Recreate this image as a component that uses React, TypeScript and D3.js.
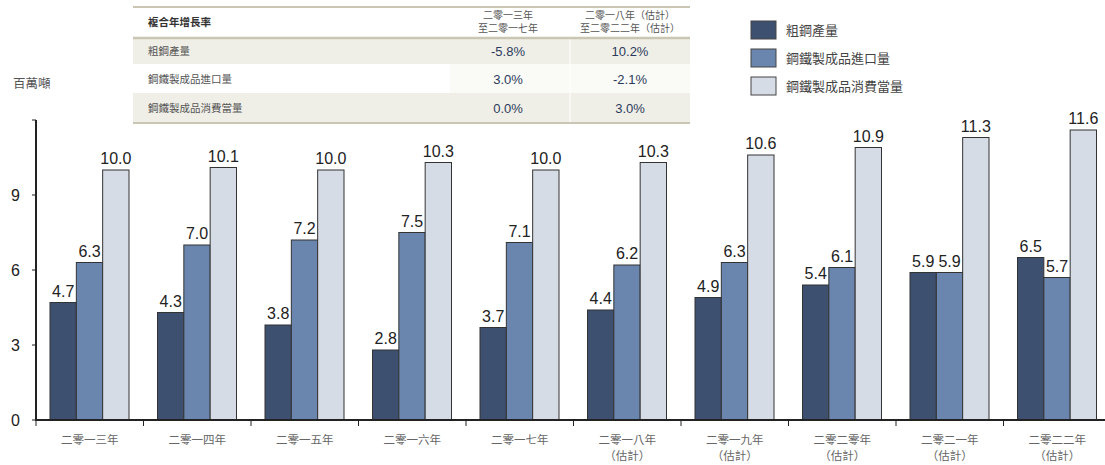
import React from "react";
import * as d3 from "d3";

const categories = [
  ["二零一三年"], ["二零一四年"], ["二零一五年"], ["二零一六年"], ["二零一七年"],
  ["二零一八年", "（估計）"], ["二零一九年", "（估計）"], ["二零二零年", "（估計）"],
  ["二零二一年", "（估計）"], ["二零二二年", "（估計）"],
];
const seriesNames = ["粗鋼產量", "鋼鐵製成品進口量", "鋼鐵製成品消費當量"];
const crudeSteel = [4.7, 4.3, 3.8, 2.8, 3.7, 4.4, 4.9, 5.4, 5.9, 6.5];
const imports = [6.3, 7.0, 7.2, 7.5, 7.1, 6.2, 6.3, 6.1, 5.9, 5.7];
const consumption = [10.0, 10.1, 10.0, 10.3, 10.0, 10.3, 10.6, 10.9, 11.3, 11.6];
const yTicks = [0, 3, 6, 9];
const tableTitle = "複合年增長率";
const tableCols = [["二零一三年", "至二零一七年"], ["二零一八年（估計）", "至二零二二年（估計）"]];
const tableRows = ["粗鋼產量", "鋼鐵製成品進口量", "鋼鐵製成品消費當量"];
const tableVals = [["-5.8%", "10.2%"], ["3.0%", "-2.1%"], ["0.0%", "3.0%"]];

const colors = ["#3d5070", "#6a86ae", "#d5dce6"];
const CJK = "'Noto Sans CJK TC', sans-serif";
const LAT = "'Liberation Sans', Arial, sans-serif";

export default function App() {
  const W = 1105, H = 465;
  const x0 = 36, band = 107.5;
  const x = d3.scaleBand<number>().domain(d3.range(categories.length)).range([x0, x0 + band * categories.length]).paddingInner(0).paddingOuter(0);
  const inner = d3.scaleBand<number>().domain([0, 1, 2]).range([14, 14 + 79]);
  const y = d3.scaleLinear().domain([0, 12]).range([420, 120]);
  const series = [crudeSteel, imports, consumption];

  const rowY = [38, 64, 93, 122];
  return (
    <svg width={W} height={H} style={{ position: "absolute", left: 0, top: 0, background: "#fff" }}>
      {/* table */}
      <g>
        <rect x={133} y={rowY[0]} width={557} height={rowY[1] - rowY[0]} fill="#f0efe7" />
        <rect x={450} y={rowY[1]} width={240} height={rowY[2] - rowY[1]} fill="#fafaf6" />
        <rect x={133} y={rowY[2]} width={557} height={rowY[3] - rowY[2]} fill="#f0efe7" />
        <line x1={570} x2={570} y1={rowY[0]} y2={rowY[3]} stroke="#fff" strokeWidth={1} />
        <line x1={133} x2={690} y1={7} y2={7} stroke="#c9c6b3" strokeWidth={2} />
        <line x1={133} x2={690} y1={rowY[0]} y2={rowY[0]} stroke="#c9c6b3" strokeWidth={2.5} />
        <line x1={133} x2={690} y1={rowY[3] + 1} y2={rowY[3] + 1} stroke="#c9c6b3" strokeWidth={2} />
        <text x={148} y={26} fontFamily={CJK} fontSize={10.5} fontWeight="bold" fill="#333">{tableTitle}</text>
        {tableCols.map((c, i) => (
          <g key={i}>
            {c.map((t, j) => (
              <text key={j} x={i === 0 ? 508 : 630} y={19 + j * 13} textAnchor="middle" fontFamily={CJK} fontSize={10} fill="#555">{t}</text>
            ))}
          </g>
        ))}
        {tableRows.map((r, i) => {
          const cy = (rowY[i] + rowY[i + 1]) / 2 + 4;
          return (
            <g key={i}>
              <text x={148} y={cy} fontFamily={CJK} fontSize={10.5} fill="#555">{r}</text>
              {tableVals[i].map((v, j) => (
                <text key={j} x={j === 0 ? 508 : 630} y={cy + 1} textAnchor="middle" fontFamily={LAT} fontSize={13} fill="#2b3a5c">{v}</text>
              ))}
            </g>
          );
        })}
      </g>
      {/* legend */}
      {seriesNames.map((n, i) => (
        <g key={i}>
          <rect x={751} y={21 + i * 28} width={25} height={18} fill={colors[i]} stroke="#444" strokeWidth={1} />
          <text x={786} y={35 + i * 28} fontFamily={CJK} fontSize={13} fill="#444">{n}</text>
        </g>
      ))}
      {/* y unit */}
      <text x={13} y={88} fontFamily={CJK} fontSize={12.5} fill="#555">百萬噸</text>
      {/* bars */}
      {categories.map((c, i) => (
        <g key={i} transform={`translate(${x(i)},0)`}>
          {series.map((s, k) => (
            <g key={k}>
              <rect x={inner(k)} y={y(s[i])} width={inner.bandwidth()} height={y(0) - y(s[i])} fill={colors[k]} stroke="#333" strokeWidth={1} />
              <text x={(inner(k) as number) + inner.bandwidth() / 2} y={y(s[i]) - 6} textAnchor="middle" fontFamily={LAT} fontSize={16} fill="#222">{s[i].toFixed(1)}</text>
            </g>
          ))}
          {c.map((t, j) => (
            <text key={j} x={band / 2} y={444 + j * 16} textAnchor="middle" fontFamily={CJK} fontSize={11.5} fill="#666">{t}</text>
          ))}
        </g>
      ))}
      {/* axes */}
      <line x1={x0} x2={W} y1={420} y2={420} stroke="#222" strokeWidth={2} />
      <line x1={x0} x2={x0} y1={120} y2={421} stroke="#222" strokeWidth={2} />
      {categories.map((c, i) => (
        <line key={i} x1={x(i)} x2={x(i)} y1={420} y2={426} stroke="#222" strokeWidth={1} />
      ))}
      <line x1={x0 - 4} x2={x0} y1={120} y2={120} stroke="#222" strokeWidth={1} />
      {yTicks.map((t) => (
        <g key={t}>
          <line x1={x0 - 4} x2={x0} y1={y(t)} y2={y(t)} stroke="#222" strokeWidth={1} />
          <text x={20} y={y(t) + 6} textAnchor="end" fontFamily={LAT} fontSize={16} fill="#222">{t}</text>
        </g>
      ))}
    </svg>
  );
}
